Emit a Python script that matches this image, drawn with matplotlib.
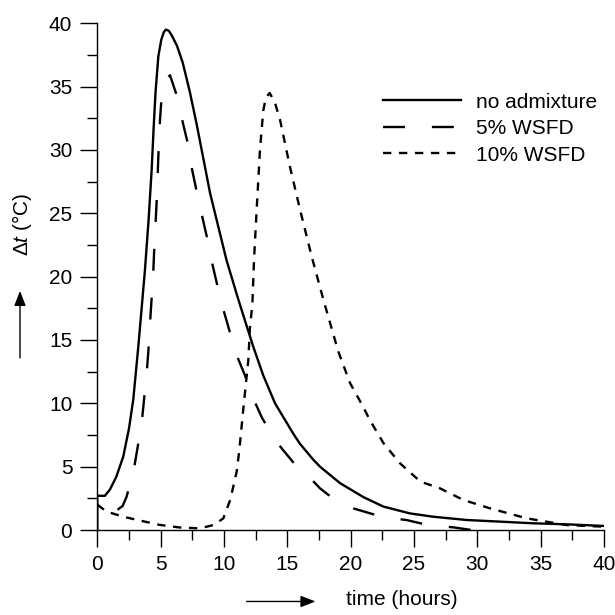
import matplotlib
matplotlib.use("Agg")
import matplotlib.pyplot as plt
from matplotlib.ticker import MultipleLocator

plt.rcParams["font.family"] = ["Liberation Sans", "DejaVu Sans"]
plt.rcParams["mathtext.fontset"] = "custom"
plt.rcParams["mathtext.rm"] = "Liberation Sans"
plt.rcParams["mathtext.it"] = "Liberation Sans:italic"
plt.rcParams["lines.scale_dashes"] = False

# --------------------------------------------------
# data (time in hours, delta t in deg C)
# --------------------------------------------------

t_none = [0, 0, 0.6, 1.0, 1.5, 2.05, 2.5, 2.84, 3.24, 3.76, 4.05, 4.29, 4.45, 4.6,
          4.82, 5.05, 5.25, 5.42, 5.65, 5.9, 6.3, 6.74, 7.3, 7.85, 8.9, 10.2,
          11.13, 12.3, 13.1, 14.03, 15.47, 16.0, 17.05, 17.58, 19.16, 21.0,
          22.58, 24.68, 26.5, 29.15, 31.8, 34.4, 37.05, 40]
dt_none = [0, 2.7, 2.7, 3.2, 4.2, 5.8, 8.0, 10.3, 14.5, 20.5, 24.5, 28.4, 31.8,
           34.6, 37.4, 38.7, 39.3, 39.5, 39.4, 39.0, 38.2, 36.9, 34.6, 32.0,
           26.6, 21.3, 18.2, 14.5, 12.2, 10.0, 7.6, 6.8, 5.55, 5.0, 3.7, 2.6,
           1.85, 1.31, 1.05, 0.79, 0.66, 0.53, 0.45, 0.32]

t_5 = [1.6, 2.0, 2.3, 2.84, 3.5, 3.9, 4.05, 4.16, 4.29, 4.42, 4.5, 4.69, 4.78,
       4.85, 4.95, 5.08, 5.4, 5.74, 6.27, 6.74, 7.1, 7.45, 7.85, 8.29, 8.68,
       9.08, 9.5, 9.95, 10.47, 11.0, 11.66, 12.26, 12.98, 13.77, 14.55, 15.5,
       16.0, 16.65, 17.58, 18.76, 20.2, 22.6, 24.4, 26.1, 28.1, 29.55]
dt_5 = [1.6, 1.9, 2.6, 4.5, 8.4, 12.4, 14.4, 16.3, 18.3, 20.4, 22.3, 26.0, 28.4,
        30.3, 32.4, 34.2, 35.5, 35.9, 34.3, 32.2, 30.7, 28.6, 26.7, 24.7, 23.0,
        21.0, 19.2, 17.4, 15.6, 13.8, 12.2, 10.5, 8.9, 7.5, 6.45, 5.3, 4.74,
        4.26, 3.29, 2.37, 1.71, 1.0, 0.79, 0.39, 0.21, 0.0]

t_10 = [0, 0.74, 2.05, 3.4, 4.95, 6.5, 8.1, 9.2, 9.95, 10.5, 11.0, 11.2, 11.52,
        11.92, 12.05, 12.24, 12.37, 12.58, 12.84, 13.1, 13.3, 13.6, 14.0, 14.42,
        15.2, 16.0, 16.92, 17.84, 19.02, 19.95, 21.0, 21.5, 22.6, 23.9, 25.5,
        27.05, 28.9, 31.0, 33.9, 37.05, 40]
dt_10 = [2.0, 1.45, 1.05, 0.74, 0.4, 0.2, 0.13, 0.4, 0.92, 2.4, 4.6, 6.2, 9.5,
         13.4, 16.0, 17.8, 21.3, 25.3, 30.0, 33.1, 34.1, 34.5, 33.8, 32.4, 28.7,
         25.3, 21.6, 18.2, 14.1, 11.6, 9.7, 8.7, 6.84, 5.26, 3.82, 3.29, 2.37,
         1.71, 0.92, 0.39, 0.26]

labels = ["no admixture", "5% WSFD", "10% WSFD"]

# --------------------------------------------------
# figure
# --------------------------------------------------

fig = plt.figure(figsize=(6.15, 6.15), dpi=100)
ax = fig.add_axes([0.1582, 0.1382, 0.824, 0.824])

lw = 1.7
ax.plot(t_none, dt_none, color="black", lw=lw, label=labels[0])
ax.plot(t_5, dt_5, color="black", lw=lw, dashes=(15.8, 19.4), label=labels[1])
ax.plot(t_10, dt_10, color="black", lw=lw, dashes=(6.0, 5.5), label=labels[2])

ax.set_xlim(0, 40)
ax.set_ylim(0, 40)
ax.xaxis.set_major_locator(MultipleLocator(5))
ax.xaxis.set_minor_locator(MultipleLocator(2.5))
ax.yaxis.set_major_locator(MultipleLocator(5))
ax.yaxis.set_minor_locator(MultipleLocator(2.5))

for side in ["top", "right"]:
    ax.spines[side].set_visible(False)
for side in ["left", "bottom"]:
    ax.spines[side].set_linewidth(1.0)

ax.tick_params(which="major", direction="out", length=12, width=1.0,
               labelsize=15, pad=6)
ax.tick_params(which="minor", direction="out", length=7, width=1.0)

leg = ax.legend(loc="upper left", bbox_to_anchor=(0.563, 0.863),
                frameon=False, fontsize=15, handlelength=3.75,
                handletextpad=0.75, labelspacing=0.36, borderpad=0,
                borderaxespad=0)

# axis labels with arrows, drawn in figure coordinates
fig.text(0.036, 0.636, r"$\Delta\mathit{t}$ (°C)", rotation=90,
         ha="center", va="center", fontsize=15)
ax.annotate("", xy=(0.0325, 0.527), xytext=(0.0325, 0.418),
            xycoords="figure fraction", textcoords="figure fraction",
            arrowprops=dict(arrowstyle="-|>,head_length=0.9,head_width=0.35",
                            color="black", lw=1.0, shrinkA=0, shrinkB=0))

fig.text(0.654, 0.026, "time (hours)", ha="center", va="center", fontsize=15)
ax.annotate("", xy=(0.513, 0.022), xytext=(0.401, 0.022),
            xycoords="figure fraction", textcoords="figure fraction",
            arrowprops=dict(arrowstyle="-|>,head_length=0.9,head_width=0.35",
                            color="black", lw=1.0, shrinkA=0, shrinkB=0))

fig.savefig("out.png", dpi=100)
